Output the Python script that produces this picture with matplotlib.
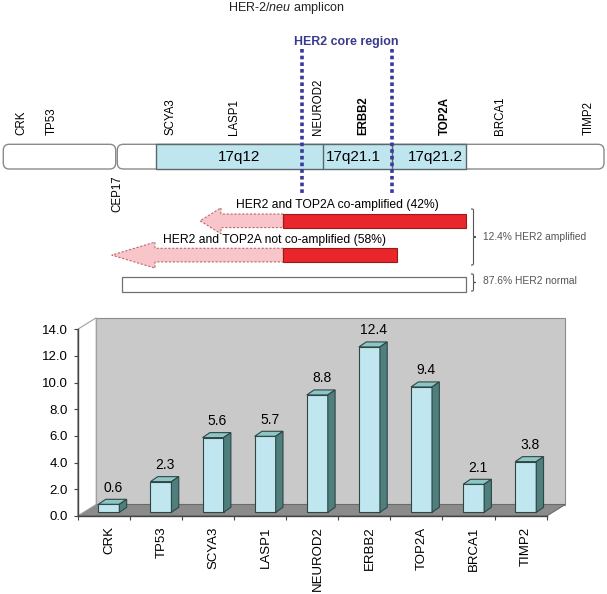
import numpy as np
import matplotlib.pyplot as plt
from matplotlib.patches import Polygon, Rectangle, FancyBboxPatch, PathPatch
from matplotlib.path import Path

plt.rcParams['font.family'] = ['Liberation Sans', 'DejaVu Sans']
plt.rcParams['mathtext.fontset'] = 'custom'
plt.rcParams['mathtext.rm'] = 'Liberation Sans'
plt.rcParams['mathtext.it'] = 'Liberation Sans:italic'

# ---- data ----
genes = ['CRK', 'TP53', 'SCYA3', 'LASP1', 'NEUROD2', 'ERBB2', 'TOP2A', 'BRCA1', 'TIMP2']
amplif = [0.6, 2.3, 5.6, 5.7, 8.8, 12.4, 9.4, 2.1, 3.8]
y_ticks = [0, 2, 4, 6, 8, 10, 12, 14]

# gene map (pixel positions along the schematic)
map_pos = [21.7, 51.7, 171, 234.3, 318.3, 363.3, 445, 500, 588.3]
bold_genes = ['ERBB2', 'TOP2A']
bands = ['17q12', '17q21.1', '17q21.2']
band_edges = [155.7, 323.3, 392, 466]
core_region = [302, 392]

groups = ['HER2 and TOP2A co-amplified (42%)', 'HER2 and TOP2A not co-amplified (58%)']
group_labels = ['12.4% HER2 amplified', '87.6% HER2 normal']

W, H = 607, 594
fig = plt.figure(figsize=(W / 100, H / 100), dpi=100)

# ######################################################
# bar chart (pseudo 3D)
ax_l, ax_r, ax_b, ax_t = 77.7, 546.7, 516, 329.3
ax = fig.add_axes([ax_l / W, (H - ax_b) / H, (ax_r - ax_l) / W, (ax_b - ax_t) / H])
n = len(genes)
ax.set_xlim(0, n)
ax.set_ylim(0, 14)
ax.set_facecolor('none')


def px(dx, dy=0):
    return dx * n / (ax_r - ax_l), dy * 14 / (ax_b - ax_t)


Dx, Dy = px(18.5, 11.5)
ax.add_patch(Rectangle((Dx, Dy), n, 14, fc='#c9c9c9', ec='#8c8c8c', lw=0.8, clip_on=False, zorder=0.1))
ax.add_patch(Polygon([(0, 0), (n, 0), (n + Dx, Dy), (Dx, Dy)], closed=True,
                     fc='#8b8b8b', ec='#6a6a6a', lw=0.8, clip_on=False, zorder=0.3))
ax.add_patch(Polygon([(0, 0), (Dx, Dy), (Dx, 14 + Dy), (0, 14)], closed=True,
                     fc='white', ec='#a0a0a0', lw=0.8, clip_on=False, zorder=0.3))

xc = np.arange(n) + 0.5
fx, fy = px(5.1, 3.7)
bw = px(21)[0]
dbx, dby = px(7.3, 5)
ax.bar(xc + fx, amplif, width=bw, bottom=fy, color='#c0e7ef', edgecolor='#2f4646',
       linewidth=0.8, zorder=3, clip_on=False)
for x, v in zip(xc + fx, amplif):
    x0, x1 = x - bw / 2, x + bw / 2
    top = v + fy
    ax.add_patch(Polygon([(x0, top), (x1, top), (x1 + dbx, top + dby), (x0 + dbx, top + dby)],
                         closed=True, fc='#8cc7c6', ec='#2f4646', lw=0.8, zorder=3, clip_on=False))
    ax.add_patch(Polygon([(x1, fy), (x1 + dbx, fy + dby), (x1 + dbx, top + dby), (x1, top)],
                         closed=True, fc='#4f7f7c', ec='#2f4646', lw=0.8, zorder=3, clip_on=False))
    ax.text(x + px(4.4)[0], v + 1.0, f'{v:.1f}', ha='center', va='bottom', fontsize=10)

for s in ['top', 'right']:
    ax.spines[s].set_visible(False)
for s in ['left', 'bottom']:
    ax.spines[s].set_color('#444444')
    ax.spines[s].set_linewidth(1)

ax.set_yticks(y_ticks)
ax.set_yticklabels([f'{t:.1f}' for t in y_ticks], fontsize=9.5)
ax.tick_params(axis='y', length=3, color='#444444', pad=4)
ax.set_xticks(np.arange(n + 1))
ax.set_xticklabels([])
ax.tick_params(axis='x', which='major', length=3, color='#444444')
ax.set_xticks(xc + px(5.5)[0], minor=True)
ax.set_xticklabels(genes, minor=True, rotation=90, fontsize=9.5)
ax.tick_params(axis='x', which='minor', length=0, pad=7.5)

# ######################################################
# schematic of the amplicon
ax0 = fig.add_axes([0, 0, 1, 1])
ax0.set_xlim(0, W)
ax0.set_ylim(H, 0)
ax0.set_facecolor('none')
ax0.axis('off')

ax0.text(286, 8, 'HER-2/$\\mathit{neu}$ amplicon', ha='center', va='center', fontsize=9, color='#222222')
ax0.text(346, 42, 'HER2 core region', ha='center', va='center', fontsize=8.9,
         fontweight='bold', color='#3a3a8c')

# chromosome
cy, ch = 144.3, 24.7
ax0.add_patch(FancyBboxPatch((3.3, cy), 112.4, ch, boxstyle='round,pad=0,rounding_size=6',
                             fc='white', ec='#8a8a8a', lw=1, zorder=1))
ax0.add_patch(FancyBboxPatch((117.3, cy), 486.7, ch, boxstyle='round,pad=0,rounding_size=6',
                             fc='white', ec='#8a8a8a', lw=1, zorder=1))
ax0.add_patch(Rectangle((band_edges[0], cy), band_edges[-1] - band_edges[0], ch,
                        fc='#bfe5ee', ec='#5a6868', lw=1, zorder=2))
ax0.vlines(band_edges[1:-1], cy, cy + ch, color='#5a6868', lw=1, zorder=2)
for b, l, r in zip(bands, band_edges[:-1], band_edges[1:]):
    ax0.text((l + r) / 2 + (6 if b == '17q21.2' else 0) - (4 if b == '17q21.1' else 0),
             cy + ch / 2 + 0.5, b, ha='center', va='center', fontsize=11, zorder=3)

for g, x in zip(genes, map_pos):
    ax0.text(x, 135, g, rotation=90, ha='center', va='bottom', fontsize=8.3,
             fontweight='bold' if g in bold_genes else 'normal')
ax0.text(117, 175, 'CEP17', rotation=90, ha='center', va='top', fontsize=8.3)

ax0.vlines(core_region, 49, 194, color='#3a3a9a', lw=2.6, linestyles=(0, (1, 0.85)), zorder=5)

# co-amplification arrows
arrow_tip = [200, 111.7]
head_base = [221, 155]
red_start = 283.3
red_end = [466, 396.7]
bar_top = [214, 248.3]
bar_h = 13.6
for i in range(2):
    t, bb = bar_top[i], bar_top[i] + bar_h
    mid = (t + bb) / 2
    ax0.add_patch(Polygon([(red_start, t), (head_base[i], t), (head_base[i], mid - 13),
                           (arrow_tip[i], mid), (head_base[i], mid + 13), (head_base[i], bb),
                           (red_start, bb)], closed=True, fc='#f8c6ca', ec='#b86a6a',
                          ls=(0, (2, 1.5)), lw=0.8, zorder=2))
    ax0.add_patch(Rectangle((red_start, t), red_end[i] - red_start, bar_h,
                            fc='#e8262b', ec='#9a1a1a', lw=0.8, zorder=3))
ax0.text(337.7, 205, groups[0], ha='center', va='center', fontsize=8.7)
ax0.text(274.3, 240, groups[1], ha='center', va='center', fontsize=8.7)
ax0.add_patch(Rectangle((121.7, 276.7), 344, 15, fc='white', ec='#707070', lw=0.9))


def brace(x0, yt, yb, w=5, r=3):
    ym = (yt + yb) / 2
    xm = x0 + w / 2
    verts = [(x0, yt), (xm, yt), (xm, yt), (xm, yt + r), (xm, ym - r),
             (xm, ym), (xm, ym), (x0 + w, ym),
             (xm, ym), (xm, ym), (xm, ym + r), (xm, yb - r),
             (xm, yb), (xm, yb), (x0, yb)]
    codes = [Path.MOVETO, Path.CURVE4, Path.CURVE4, Path.CURVE4, Path.LINETO,
             Path.CURVE4, Path.CURVE4, Path.CURVE4,
             Path.CURVE4, Path.CURVE4, Path.CURVE4, Path.LINETO,
             Path.CURVE4, Path.CURVE4, Path.CURVE4]
    ax0.add_patch(PathPatch(Path(verts, codes), fc='none', ec='#555555', lw=0.8))


brace(471, 209, 265)
brace(471, 274, 291)
ax0.text(482.7, 237.3, group_labels[0], ha='left', va='center', fontsize=7.4, color='#555555')
ax0.text(482.7, 281, group_labels[1], ha='left', va='center', fontsize=7.4, color='#555555')

plt.savefig('out.png', dpi=100)
